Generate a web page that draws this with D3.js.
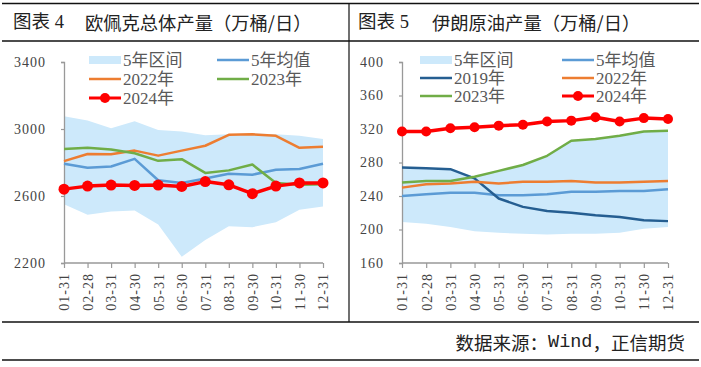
<!DOCTYPE html>
<html><head><meta charset="utf-8">
<script src="https://cdn.jsdelivr.net/npm/d3@7/dist/d3.min.js"></script>
<style>
html,body{margin:0;padding:0;background:#fff;}
svg{display:block;}
</style></head>
<body>
<svg id="c" width="701" height="367"></svg>
<script>
const dates = ["01-31","02-28","03-31","04-30","05-31","06-30","07-31","08-31","09-30","10-31","11-30","12-31"];

const opecBandLow  = [2551, 2488, 2508, 2514, 2430, 2237, 2337, 2420, 2414, 2443, 2518, 2537];
const opecBandHigh = [3076, 3051, 3004, 3047, 2994, 2985, 2963, 2968, 2974, 2968, 2959, 2941];
const opecAvg  = [2792, 2769, 2776, 2822, 2694, 2678, 2704, 2733, 2727, 2757, 2761, 2792];
const opec2022 = [2808, 2851, 2849, 2871, 2841, 2871, 2900, 2965, 2968, 2959, 2888, 2894];
const opec2023 = [2880, 2888, 2878, 2855, 2810, 2820, 2738, 2753, 2788, 2678, 2667, 2670];
const opec2024 = [2641, 2659, 2665, 2663, 2665, 2657, 2686, 2667, 2614, 2659, 2678, 2678];
const opecTicks = [2200, 2600, 3000, 3400];

const iranBandLow  = [209, 207, 203, 198, 196, 195, 194, 195, 195, 196, 201, 203];
const iranBandHigh = [274, 273, 272, 263, 270, 277, 288, 306, 308, 312, 317, 318];
const iranAvg  = [240, 242, 244, 244, 241, 241, 242, 245, 245, 246, 246, 248];
const iran2019 = [274, 273, 272, 261, 237, 227, 222, 220, 217, 215, 211, 210];
const iran2022 = [250, 254, 255, 257, 255, 257, 257, 258, 256, 256, 257, 258];
const iran2023 = [256, 258, 258, 263, 270, 277, 288, 306, 308, 312, 317, 318];
const iran2024 = [317, 317, 321, 322, 324, 325, 329, 330, 334, 329, 333, 332];
const iranTicks = [160, 200, 240, 280, 320, 360, 400];

const titles = [["图表 4", "欧佩克总体产量（万桶/日）"], ["图表 5", "伊朗原油产量（万桶/日）"]];
const sourceText = "数据来源：Wind，正信期货";

const C = {band:"#cde9fb", avg:"#5b9bd5", y2019:"#255e91", y2022:"#ed7d31", y2023:"#70ad47", y2024:"#ff0000"};
const svg = d3.select("#c");
const CJK = "'Liberation Serif','Noto Sans CJK SC',serif";
const SERIF = "'Liberation Serif','Times New Roman',serif";

// frame lines
const frame = svg.append("g").attr("stroke","#111").attr("stroke-width",1.5);
frame.append("line").attr("x1",2).attr("x2",699).attr("y1",3.5).attr("y2",3.5);
frame.append("line").attr("x1",2).attr("x2",699).attr("y1",41).attr("y2",41);
frame.append("line").attr("x1",2).attr("x2",699).attr("y1",322).attr("y2",322);
frame.append("line").attr("x1",2).attr("x2",699).attr("y1",360).attr("y2",360);
svg.append("line").attr("x1",349).attr("x2",349).attr("y1",3.5).attr("y2",322).attr("stroke","#111").attr("stroke-width",1.2);

// titles
[[13,85],[358,432]].forEach((p,i)=>{
  svg.append("text").attr("x",p[0]).attr("y",22).attr("dominant-baseline","central")
    .attr("font-family",CJK).attr("font-size",18.5).attr("fill","#222").text(titles[i][0]);
  svg.append("text").attr("x",p[1]).attr("y",22).attr("dominant-baseline","central")
    .attr("font-family","'Noto Sans CJK SC',sans-serif").attr("font-size",18.3).attr("fill","#222").text(titles[i][1]);
});

// source
const st = svg.append("text").attr("x",685).attr("y",342).attr("text-anchor","end").attr("dominant-baseline","central")
  .attr("font-family","'Noto Sans CJK SC',sans-serif").attr("font-size",18.5).attr("fill","#222");
st.append("tspan").text("数据来源：");
st.append("tspan").attr("font-family","'Liberation Mono',monospace").text("Wind");
st.append("tspan").text("，正信期货");

function panel(cfg){
  const x = d3.scalePoint().domain(dates).range(cfg.xr);
  const y = d3.scaleLinear().domain([cfg.ticks[0], cfg.ticks[cfg.ticks.length-1]]).range([263, 62]);
  const g = svg.append("g");

  // band
  const area = d3.area().x((d,i)=>x(dates[i])).y0(d=>y(d[0])).y1(d=>y(d[1]));
  g.append("path").datum(cfg.bandLow.map((v,i)=>[v,cfg.bandHigh[i]]))
    .attr("d",area).attr("fill",C.band);

  // axes
  const ya = d3.axisLeft(y).tickValues(cfg.ticks).tickSize(3).tickPadding(15).tickFormat(d3.format("d"));
  const yg = g.append("g").attr("transform",`translate(${cfg.xr[0]},0)`).call(ya);
  yg.select(".domain").attr("stroke","#999").attr("stroke-width",1.3);
  yg.selectAll(".tick line").attr("stroke","#999").attr("stroke-width",1.2);
  yg.selectAll(".tick text").attr("font-family",SERIF).attr("font-size",14).attr("letter-spacing","1px").attr("fill","#444");

  const xa = d3.axisBottom(x).tickSize(5).tickPadding(8);
  const xg = g.append("g").attr("transform","translate(0,263)").call(xa);
  xg.select(".domain").attr("stroke","#999").attr("stroke-width",1.3).attr("d",`M${cfg.xr[0]},0H${cfg.xr[1]}`);
  xg.selectAll(".tick line").attr("stroke","#999").attr("stroke-width",1.2);
  xg.selectAll(".tick text").attr("font-family",SERIF).attr("font-size",14).attr("letter-spacing","1px").attr("fill","#444")
    .attr("text-anchor","end").attr("dy","0.35em").attr("transform","translate(0,10) rotate(-90)").attr("x",0).attr("y",0);

  const line = d3.line().x((d,i)=>x(dates[i])).y(d=>y(d));
  cfg.series.forEach(s=>{
    g.append("path").datum(s.data).attr("d",line).attr("fill","none")
      .attr("stroke",s.color).attr("stroke-width",s.w).attr("stroke-linejoin","round");
    if(s.dots){
      g.selectAll(null).data(s.data).enter().append("circle")
        .attr("cx",(d,i)=>x(dates[i])).attr("cy",d=>y(d)).attr("r",s.r).attr("fill",s.color);
    }
  });

  // legend
  const lg = svg.append("g").attr("font-family",CJK).attr("font-size",17).attr("fill","#595959");
  cfg.legend.forEach(it=>{
    const lx = it.x, ly = it.y;
    if(it.type==="band"){
      lg.append("rect").attr("x",lx).attr("y",ly-4).attr("width",32).attr("height",8).attr("fill",C.band);
    } else {
      lg.append("line").attr("x1",lx).attr("x2",lx+32).attr("y1",ly).attr("y2",ly)
        .attr("stroke",it.color).attr("stroke-width",it.dot?3:2.5);
      if(it.dot) lg.append("circle").attr("cx",lx+16).attr("cy",ly).attr("r",it.r).attr("fill",it.color);
    }
    lg.append("text").attr("x",lx+34).attr("y",ly).attr("dominant-baseline","central").text(it.label);
  });
}

panel({
  xr:[64,323], ticks:opecTicks, bandLow:opecBandLow, bandHigh:opecBandHigh,
  series:[
    {data:opecAvg, color:C.avg, w:2.5},
    {data:opec2022, color:C.y2022, w:2.5},
    {data:opec2023, color:C.y2023, w:2.5},
    {data:opec2024, color:C.y2024, w:3.5, dots:true, r:5.5}
  ],
  legend:[
    {type:"band", x:89, y:60, label:"5年区间"},
    {x:217, y:60, color:C.avg, label:"5年均值"},
    {x:89, y:79, color:C.y2022, label:"2022年"},
    {x:217, y:79, color:C.y2023, label:"2023年"},
    {x:89, y:98, color:C.y2024, dot:true, r:5, label:"2024年"}
  ]
});

panel({
  xr:[402,668], ticks:iranTicks, bandLow:iranBandLow, bandHigh:iranBandHigh,
  series:[
    {data:iranAvg, color:C.avg, w:2.5},
    {data:iran2019, color:C.y2019, w:2.5},
    {data:iran2022, color:C.y2022, w:2.5},
    {data:iran2023, color:C.y2023, w:2.5},
    {data:iran2024, color:C.y2024, w:3.5, dots:true, r:5}
  ],
  legend:[
    {type:"band", x:420, y:60, label:"5年区间"},
    {x:562, y:60, color:C.avg, label:"5年均值"},
    {x:420, y:78, color:C.y2019, label:"2019年"},
    {x:562, y:78, color:C.y2022, label:"2022年"},
    {x:420, y:96, color:C.y2023, label:"2023年"},
    {x:562, y:96, color:C.y2024, dot:true, r:5, label:"2024年"}
  ]
});
</script>
</body></html>
